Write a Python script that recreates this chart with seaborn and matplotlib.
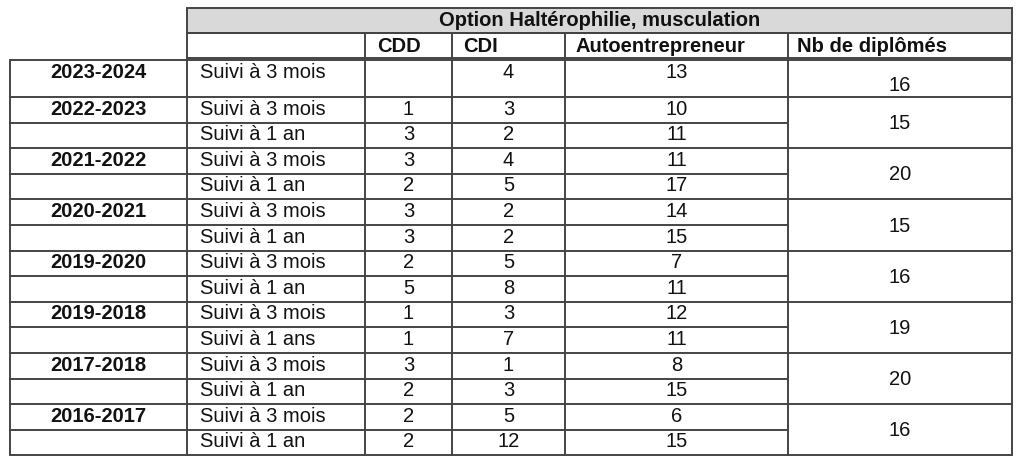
import matplotlib
matplotlib.use("Agg")
import matplotlib.pyplot as plt
import seaborn as sns

sns.set_theme(style="white")

title = "Option Haltérophilie, musculation"
headers = ["CDD", "CDI", "Autoentrepreneur", "Nb de diplômés"]
years = ["2023-2024", "2022-2023", "2021-2022", "2020-2021", "2019-2020", "2019-2018", "2017-2018", "2016-2017"]
suivi = [["Suivi à 3 mois"],
         ["Suivi à 3 mois", "Suivi à 1 an"],
         ["Suivi à 3 mois", "Suivi à 1 an"],
         ["Suivi à 3 mois", "Suivi à 1 an"],
         ["Suivi à 3 mois", "Suivi à 1 an"],
         ["Suivi à 3 mois", "Suivi à 1 ans"],
         ["Suivi à 3 mois", "Suivi à 1 an"],
         ["Suivi à 3 mois", "Suivi à 1 an"]]
cdd = [[""], ["1", "3"], ["3", "2"], ["3", "3"], ["2", "5"], ["1", "1"], ["3", "2"], ["2", "2"]]
cdi = [["4"], ["3", "2"], ["4", "5"], ["2", "2"], ["5", "8"], ["3", "7"], ["1", "3"], ["5", "12"]]
auto = [["13"], ["10", "11"], ["11", "17"], ["14", "15"], ["7", "11"], ["12", "11"], ["8", "15"], ["6", "15"]]
diplomes = ["16", "15", "20", "15", "16", "19", "20", "16"]

fig = plt.figure(figsize=(10.24, 4.61), dpi=100)
ax = fig.add_axes([0, 0, 1, 1])
ax.set_xlim(0, 1024)
ax.set_ylim(461, 0)
ax.axis("off")

FONT = "Liberation Sans"
FS = 14.5
TC = "#111111"
lc = "#444444"
lw = 1.4
X = [10, 187, 365, 452, 565, 788, 1012]

def txt(x, y, s, ha="center", bold=False):
    ax.text(x, y, s, ha=ha, va="center", fontsize=FS, color=TC,
            fontweight="bold" if bold else "normal", family=FONT)

# header
ax.add_patch(plt.Rectangle((X[1], 8), X[6] - X[1], 25, facecolor="#d9d9d9", edgecolor=lc, lw=lw))
txt((X[1] + X[6]) / 2, 20, title, bold=True)
ax.add_patch(plt.Rectangle((X[1], 33), X[6] - X[1], 25, facecolor="none", edgecolor=lc, lw=lw))
for i in range(2, 6):
    ax.plot([X[i], X[i]], [33, 58], color=lc, lw=lw)
hx = [377, 463, 576, 797]
for h, x in zip(headers, hx):
    txt(x, 46, h, ha="left", bold=True)

# body
top = 60
first_h = 37
rh = 25.6
y = top
ax.plot([X[0], X[6]], [top, top], color=lc, lw=lw)
for g, yr in enumerate(years):
    n = len(suivi[g])
    h = first_h if g == 0 else rh
    gy = y
    for r in range(n):
        ty = y + 12
        if r == 0:
            txt((X[0] + X[1]) / 2, ty, yr, bold=True)
        txt(X[1] + 13, ty, suivi[g][r], ha="left")
        txt((X[2] + X[3]) / 2, ty, cdd[g][r])
        txt((X[3] + X[4]) / 2, ty, cdi[g][r])
        txt((X[4] + X[5]) / 2, ty, auto[g][r])
        y += h
        end = X[6] if r == n - 1 else X[5]
        ax.plot([X[0], end], [y, y], color=lc, lw=lw)
    cy = (gy + y) / 2 + (7 if g == 0 else 1)
    txt((X[5] + X[6]) / 2, cy, diplomes[g])
for x in X:
    ax.plot([x, x], [top, y], color=lc, lw=lw)

fig.savefig("out.png", dpi=100, facecolor="white")
